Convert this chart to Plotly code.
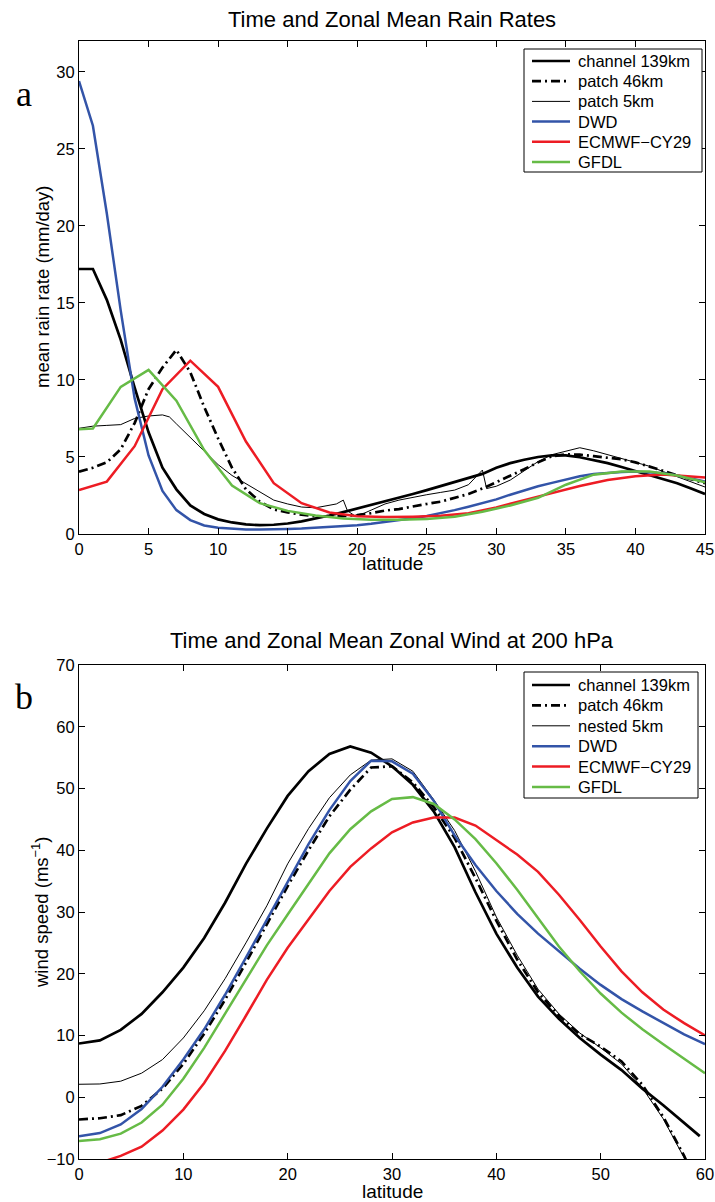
import plotly.graph_objects as go

# ---------------- Panel a: rain rates ----------------
lat_a_139 = list(range(0, 46))
rain_139 = [17.2, 17.2, 15.2, 12.6, 9.5, 6.6, 4.3, 2.9, 1.85, 1.3, 0.95, 0.75, 0.62, 0.57, 0.6,
            0.68, 0.82, 1.0, 1.2, 1.42, 1.65, 1.9, 2.12, 2.35, 2.6, 2.85, 3.1, 3.35, 3.6, 3.9,
            4.3, 4.6, 4.82, 5.0, 5.1, 5.1, 4.98, 4.8, 4.6, 4.35, 4.1, 3.85, 3.6, 3.3, 2.95, 2.6]

lat_a_46 = list(range(0, 46))
rain_46 = [4.05, 4.3, 4.65, 5.5, 7.2, 9.4, 10.8, 11.95, 10.5, 8.25, 6.2, 4.3, 2.9, 2.1, 1.6,
           1.4, 1.25, 1.15, 1.12, 1.15, 1.22, 1.35, 1.52, 1.62, 1.8, 1.95, 2.1, 2.35, 2.6, 2.95,
           3.35, 3.8, 4.2, 4.65, 5.05, 5.17, 5.15, 5.05, 4.95, 4.85, 4.65, 4.4, 4.1, 3.8, 3.55, 3.3]

lat_a_5 = [0, 1, 2, 3, 4, 5, 6, 6.5, 7, 8, 9, 10, 11, 12, 13, 14, 15, 16, 17, 18, 18.5, 19, 19.3,
           19.8, 20.5, 21, 22, 23, 24, 25, 26, 27, 28, 28.5, 29, 29.3, 30, 31, 32, 33, 34, 35, 36,
           37, 38, 39, 40, 41, 42, 43, 44, 45]
rain_5 = [6.86, 7.0, 7.05, 7.1, 7.5, 7.66, 7.73, 7.6, 7.15, 6.25, 5.35, 4.5, 3.8, 3.25, 2.75, 2.2,
          1.95, 1.75, 1.7, 1.85, 1.95, 2.2, 1.5, 1.2, 1.35, 1.55, 1.95, 2.2, 2.4, 2.55, 2.7, 2.85,
          3.2, 3.7, 4.15, 2.95, 3.1, 3.5, 4.1, 4.7, 5.15, 5.4, 5.6, 5.4, 5.15, 4.95, 4.7, 4.4, 4.05,
          3.7, 3.35, 3.05]

lat_a_dwd = list(range(0, 46))
rain_dwd = [29.4, 26.5, 20.8, 14.5, 8.8, 5.1, 2.8, 1.55, 0.9, 0.55, 0.4, 0.33, 0.3, 0.3, 0.3,
            0.32, 0.35, 0.4, 0.45, 0.5, 0.57, 0.66, 0.77, 0.9, 1.02, 1.17, 1.35, 1.55, 1.77, 2.0,
            2.25, 2.55, 2.85, 3.1, 3.32, 3.55, 3.75, 3.9, 3.98, 4.03, 4.05, 4.02, 3.95, 3.8, 3.6, 3.4]

lat_a_ecm = list(range(0, 48, 2))
rain_ecm = [2.85, 3.4, 5.7, 9.4, 11.25, 9.55, 6.0, 3.3, 2.0, 1.4, 1.15, 1.1, 1.12, 1.18, 1.35,
            1.72, 2.2, 2.65, 3.12, 3.5, 3.75, 3.87, 3.75, 3.6]

lat_a_gfdl = [0, 1, 3, 5, 7, 9, 11, 13, 15, 17, 19, 21, 23, 25, 27, 29, 31, 33, 35, 37, 39, 41, 43, 45]
rain_gfdl = [6.8, 6.85, 9.55, 10.65, 8.65, 5.45, 3.15, 2.0, 1.5, 1.2, 1.0, 0.93, 0.92, 0.98, 1.12,
             1.45, 1.85, 2.35, 3.2, 3.85, 4.05, 4.05, 3.8, 3.35]

# ---------------- Panel b: zonal wind at 200 hPa ----------------
lat_b = list(range(0, 62, 2))
lat_b_139 = list(range(0, 60, 2)) + [59.5]
wind_139 = [8.7, 9.2, 10.9, 13.5, 17.0, 21.0, 25.8, 31.5, 37.8, 43.5, 48.8, 52.8, 55.6, 56.8, 55.8,
            53.6, 50.6, 46.3, 40.5, 33.2, 26.5, 21.0, 16.3, 12.7, 9.6, 6.9, 4.4, 1.4, -1.3, -4.1, -6.3]
wind_46 = [-3.6, -3.4, -2.9, -1.4, 1.4, 5.4, 10.3, 15.8, 21.8, 28.0, 34.2, 40.0, 45.5, 49.8, 53.4,
           53.6, 51.0, 47.0, 42.0, 35.5, 28.6, 22.3, 17.0, 13.2, 10.2, 8.2, 5.8, 2.0, -3.2, -9.5, -17.0]
wind_5 = [2.1, 2.15, 2.6, 3.9, 6.1, 9.6, 14.0, 19.2, 25.0, 31.0, 37.8, 43.5, 48.5, 52.2, 54.6,
          54.8, 52.8, 48.2, 43.2, 36.6, 29.2, 23.0, 17.5, 13.5, 10.4, 8.0, 5.4, 1.5, -3.5, -9.8, -17.0]
wind_dwd = [-6.3, -5.8, -4.4, -1.9, 1.7, 6.1, 11.0, 16.6, 22.6, 28.8, 35.0, 41.0, 46.5, 51.2, 54.5,
            54.4, 52.4, 48.0, 42.4, 37.6, 33.4, 29.7, 26.5, 23.6, 20.8, 18.2, 15.9, 13.9, 12.0, 10.2, 8.6]
wind_ecm = [-11.5, -10.6, -9.5, -8.0, -5.4, -2.0, 2.3, 7.5, 13.2, 19.0, 24.2, 28.8, 33.4, 37.3, 40.3,
            42.9, 44.5, 45.3, 45.3, 44.0, 41.7, 39.3, 36.5, 32.8, 28.7, 24.4, 20.4, 17.0, 14.2, 12.0, 10.0]
wind_gfdl = [-7.1, -6.8, -5.9, -4.1, -1.2, 3.0, 8.0, 13.6, 19.2, 24.6, 29.6, 34.6, 39.5, 43.4, 46.3,
             48.3, 48.6, 47.5, 45.0, 41.8, 37.9, 33.6, 28.9, 24.4, 20.4, 16.8, 13.7, 11.0, 8.6, 6.2, 3.9]

legend_a = ["channel 139km", "patch 46km", "patch 5km", "DWD", "ECMWF\u2212CY29", "GFDL"]
legend_b = ["channel 139km", "patch 46km", "nested 5km", "DWD", "ECMWF\u2212CY29", "GFDL"]

BLUE = "#3354a8"
RED = "#ed1c24"
GREEN = "#66bb46"
FONT = "Liberation Sans, Arial, sans-serif"
DASHDOT = "9px,4px,2px,4px"
STYLES = [("black", 2.7, "solid"), ("black", 2.7, DASHDOT), ("black", 1.0, "solid"),
          (BLUE, 2.5, "solid"), (RED, 2.5, "solid"), (GREEN, 2.5, "solid")]

fig = go.Figure()

series_a = [(lat_a_139, rain_139), (lat_a_46, rain_46), (lat_a_5, rain_5),
            (lat_a_dwd, rain_dwd), (lat_a_ecm, rain_ecm), (lat_a_gfdl, rain_gfdl)]
series_b = [(lat_b_139, wind_139), (lat_b, wind_46), (lat_b, wind_5),
            (lat_b, wind_dwd), (lat_b, wind_ecm), (lat_b, wind_gfdl)]

for (x, y), name, (c, w, d) in zip(series_a, legend_a, STYLES):
    fig.add_trace(go.Scatter(x=x, y=y, name=name, mode="lines", xaxis="x", yaxis="y",
                             line=dict(color=c, width=w, dash=d)))
for (x, y), name, (c, w, d) in zip(series_b, legend_b, STYLES):
    fig.add_trace(go.Scatter(x=x, y=y, name=name, mode="lines", xaxis="x2", yaxis="y2",
                             line=dict(color=c, width=w, dash=d)))

axis_common = dict(showline=True, linecolor="black", linewidth=1, mirror="ticks",
                   ticks="inside", ticklen=6, tickcolor="black", showgrid=False,
                   zeroline=False, automargin=False,
                   tickfont=dict(family=FONT, size=16.5, color="black"))

W, H = 715, 1202
L, T, R, B = 79, 41, 10, 43
PW, PH = W - L - R, H - T - B

def px(x):
    return (x - L) / PW

def py(y):
    return (H - B - y) / PH

fig.update_layout(
    width=W, height=H,
    margin=dict(l=L, r=R, t=T, b=B, autoexpand=False),
    paper_bgcolor="white", plot_bgcolor="white",
    font=dict(family=FONT, size=16, color="black"),
    showlegend=False,
    hovermode=False,
    xaxis=dict(domain=[0, 1], range=[0, 45], tickvals=list(range(0, 50, 5)), anchor="y", **axis_common),
    yaxis=dict(domain=[py(534), 1], range=[0, 32], tickvals=list(range(0, 35, 5)), anchor="x", **axis_common),
    xaxis2=dict(domain=[0, 1], range=[0, 60], tickvals=list(range(0, 70, 10)), anchor="y2", **axis_common),
    yaxis2=dict(domain=[0, py(665)], range=[-10, 70], tickvals=list(range(-10, 80, 10)), anchor="x2", **axis_common),
)

annotations = []
shapes = []

def text(t, x, y, size, angle=0, anchor="center", family=FONT):
    annotations.append(dict(text=t, xref="paper", yref="paper", x=px(x), y=py(y),
                            xanchor=anchor, yanchor="middle", showarrow=False, textangle=angle,
                            font=dict(family=family, size=size, color="black")))

text("Time and Zonal Mean Rain Rates", 392, 20, 22)
text("Time and Zonal Mean Zonal Wind at 200 hPa", 392, 640, 22)
text("latitude", 392, 563, 19)
text("latitude", 392, 1191, 19)
text("mean rain rate (mm/day)", 42, 287, 18.5, angle=-90)
text("wind speed (ms<sup>\u22121</sup>)", 40, 912, 18.5, angle=-90)
text("a", 24, 94, 36, family="Liberation Serif, Times New Roman, serif")
text("b", 24, 697, 36, family="Liberation Serif, Times New Roman, serif")

# legend boxes (box, sample lines and labels)
def legend(names, box, y0, dy):
    x0, x1, top, bottom = box
    shapes.append(dict(type="rect", xref="paper", yref="paper",
                       x0=px(x0), x1=px(x1), y0=py(bottom), y1=py(top),
                       line=dict(color="black", width=1), fillcolor="white", layer="above"))
    for i, (name, (c, w, d)) in enumerate(zip(names, STYLES)):
        yy = y0 + i * dy
        shapes.append(dict(type="line", xref="paper", yref="paper",
                           x0=px(532), x1=px(570), y0=py(yy), y1=py(yy),
                           line=dict(color=c, width=w, dash=d), layer="above"))
        text(name, 576, yy, 16.5, anchor="left")

legend(legend_a, (524, 702, 49, 172), 61, 20.2)
legend(legend_b, (524, 698, 672, 798), 685, 20.4)

fig.update_layout(annotations=annotations, shapes=shapes)

# remove the default page margin so the figure sits at the window's top-left corner
fig.write_html("out.html",
               config={"displayModeBar": False, "staticPlot": True},
               post_script="document.body.style.margin='0';document.body.style.overflow='hidden';")
